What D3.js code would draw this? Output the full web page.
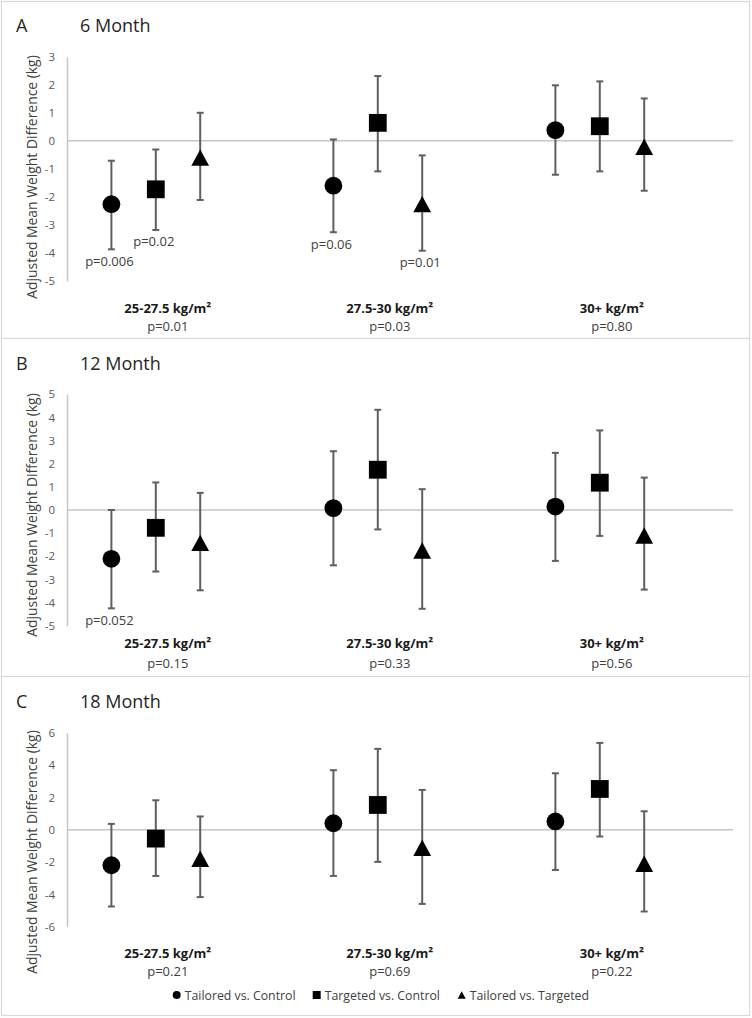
<!DOCTYPE html>
<html>
<head>
<meta charset="utf-8">
<script src="https://cdn.jsdelivr.net/npm/d3@7"></script>
<style>
  html, body { margin: 0; padding: 0; background: #ffffff; }
  svg { display: block; }
  text { font-family: "Open Sans", Lato, sans-serif; }
</style>
</head>
<body>
<svg id="chart" width="752" height="1018"></svg>
<script>
// ---------- data ----------
const groups = ["25-27.5 kg/m²", "27.5-30 kg/m²", "30+ kg/m²"];
const seriesNames = ["Tailored vs. Control", "Targeted vs. Control", "Tailored vs. Targeted"];
const seriesShapes = ["circle", "square", "triangle"];

// 6 month
const m6_tc = [-2.26, -1.60, 0.38];
const m6_tc_lo = [-3.87, -3.26, -1.21];
const m6_tc_hi = [-0.71, 0.05, 1.98];
const m6_gc = [-1.73, 0.64, 0.52];
const m6_gc_lo = [-3.18, -1.09, -1.09];
const m6_gc_hi = [-0.31, 2.31, 2.12];
const m6_tg = [-0.60, -2.26, -0.21];
const m6_tg_lo = [-2.11, -3.92, -1.78];
const m6_tg_hi = [1.00, -0.52, 1.51];
const m6_groupP = ["p=0.01", "p=0.03", "p=0.80"];
const m6_pointP = [
  { series: 0, group: 0, text: "p=0.006" },
  { series: 1, group: 0, text: "p=0.02" },
  { series: 0, group: 1, text: "p=0.06" },
  { series: 2, group: 1, text: "p=0.01" }
];
const m6_ticks = [-5, -4, -3, -2, -1, 0, 1, 2, 3];

// 12 month
const m12_tc = [-2.11, 0.08, 0.15];
const m12_tc_lo = [-4.25, -2.39, -2.20];
const m12_tc_hi = [0.00, 2.54, 2.47];
const m12_gc = [-0.77, 1.74, 1.18];
const m12_gc_lo = [-2.66, -0.84, -1.12];
const m12_gc_hi = [1.19, 4.33, 3.44];
const m12_tg = [-1.42, -1.75, -1.10];
const m12_tg_lo = [-3.47, -4.27, -3.44];
const m12_tg_hi = [0.74, 0.90, 1.40];
const m12_groupP = ["p=0.15", "p=0.33", "p=0.56"];
const m12_pointP = [
  { series: 0, group: 0, text: "p=0.052" }
];
const m12_ticks = [-5, -4, -3, -2, -1, 0, 1, 2, 3, 4, 5];

// 18 month
const m18_tc = [-2.20, 0.40, 0.51];
const m18_tc_lo = [-4.75, -2.86, -2.49];
const m18_tc_hi = [0.36, 3.68, 3.49];
const m18_gc = [-0.55, 1.53, 2.52];
const m18_gc_lo = [-2.86, -1.99, -0.42];
const m18_gc_hi = [1.82, 5.00, 5.37];
const m18_tg = [-1.80, -1.12, -2.11];
const m18_tg_lo = [-4.17, -4.59, -5.06];
const m18_tg_hi = [0.82, 2.46, 1.14];
const m18_groupP = ["p=0.21", "p=0.69", "p=0.22"];
const m18_pointP = [];
const m18_ticks = [-6, -4, -2, 0, 2, 4, 6];

const panelsData = [
  { letter: "A", title: "6 Month", ticks: m6_ticks, groupP: m6_groupP, pointP: m6_pointP,
    mean: [m6_tc, m6_gc, m6_tg], lo: [m6_tc_lo, m6_gc_lo, m6_tg_lo], hi: [m6_tc_hi, m6_gc_hi, m6_tg_hi] },
  { letter: "B", title: "12 Month", ticks: m12_ticks, groupP: m12_groupP, pointP: m12_pointP,
    mean: [m12_tc, m12_gc, m12_tg], lo: [m12_tc_lo, m12_gc_lo, m12_tg_lo], hi: [m12_tc_hi, m12_gc_hi, m12_tg_hi] },
  { letter: "C", title: "18 Month", ticks: m18_ticks, groupP: m18_groupP, pointP: m18_pointP,
    mean: [m18_tc, m18_gc, m18_tg], lo: [m18_tc_lo, m18_gc_lo, m18_tg_lo], hi: [m18_tc_hi, m18_gc_hi, m18_tg_hi] }
];

// ---------- layout ----------
const layout = [
  { boxTop: 1, boxBottom: 338, titleY: 32, plotTop: 56.7, plotBottom: 281, axisTitleY: 177, catY: 313, pY: 331 },
  { boxTop: 338, boxBottom: 676, titleY: 370, plotTop: 394.3, plotBottom: 625.7, axisTitleY: 515, catY: 648, pY: 668 },
  { boxTop: 676, boxBottom: 1015, titleY: 708, plotTop: 732.7, plotBottom: 926.7, axisTitleY: 852, catY: 958, pY: 976 }
];
const boxLeft = 1, boxRight = 749;
const plotLeft = 67, plotRight = 733;
const offsets = [-0.2, 0, 0.2];

const svg = d3.select("#chart");
const x = d3.scaleLinear().domain([0.6, 3.6]).range([plotLeft, plotRight]);

const barColor = "#5f5f5f";
const gridColor = "#c6c6c6";

function markerPath(shape, size) {
  if (shape === "circle") return d3.symbol().type(d3.symbolCircle).size(Math.PI * (size / 2) * (size / 2))();
  if (shape === "square") return d3.symbol().type(d3.symbolSquare).size(size * size)();
  const w = size, h = size * 0.92;
  return `M0,${-h / 2}L${w / 2},${h / 2}L${-w / 2},${h / 2}Z`;
}

panelsData.forEach((p, pi) => {
  const L = layout[pi];
  const g = svg.append("g");

  g.append("rect")
    .attr("x", boxLeft + 0.5).attr("y", L.boxTop + 0.5)
    .attr("width", boxRight - boxLeft).attr("height", L.boxBottom - L.boxTop)
    .attr("fill", "#ffffff").attr("stroke", "#d9d9d9").attr("stroke-width", 1.2);

  const ext = d3.extent(p.ticks);
  const y = d3.scaleLinear().domain(ext).range([L.plotBottom, L.plotTop]);

  g.append("text").attr("x", 16).attr("y", L.titleY)
    .attr("font-size", 18).attr("fill", "#262626").text(p.letter);
  g.append("text").attr("x", 80).attr("y", L.titleY)
    .attr("font-size", 18).attr("fill", "#262626").text(p.title);

  const yAxis = d3.axisLeft(y).tickValues(p.ticks).tickSize(0).tickPadding(12)
    .tickFormat(d => String(d));
  const ya = g.append("g").attr("transform", `translate(${plotLeft},0)`).call(yAxis);
  ya.select(".domain").attr("stroke", gridColor).attr("stroke-width", 1.5);
  ya.selectAll("text").attr("font-size", 11.5).attr("fill", "#595959")
    .attr("font-family", "'Open Sans', Lato, sans-serif");

  g.append("line")
    .attr("x1", plotLeft).attr("x2", plotRight)
    .attr("y1", y(0)).attr("y2", y(0))
    .attr("stroke", gridColor).attr("stroke-width", 1.5);

  g.append("text")
    .attr("transform", `translate(37,${L.axisTitleY}) rotate(-90)`)
    .attr("text-anchor", "middle").attr("font-size", 13.9).attr("fill", "#404040")
    .attr("font-family", "Lato, 'Open Sans', sans-serif")
    .text("Adjusted Mean Weight Difference (kg)");

  p.mean.forEach((vals, si) => {
    vals.forEach((v, gi) => {
      const cx = x(gi + 1 + offsets[si]);
      const yl = y(p.lo[si][gi]), yh = y(p.hi[si][gi]);
      g.append("line").attr("x1", cx).attr("x2", cx).attr("y1", yl).attr("y2", yh)
        .attr("stroke", barColor).attr("stroke-width", 2);
      [yl, yh].forEach(yy => {
        g.append("line").attr("x1", cx - 3.5).attr("x2", cx + 3.5).attr("y1", yy).attr("y2", yy)
          .attr("stroke", barColor).attr("stroke-width", 2);
      });
    });
  });
  p.mean.forEach((vals, si) => {
    vals.forEach((v, gi) => {
      const cx = x(gi + 1 + offsets[si]);
      g.append("path")
        .attr("d", markerPath(seriesShapes[si], 17.8))
        .attr("transform", `translate(${cx},${y(v)})`)
        .attr("fill", "#000");
    });
  });

  p.pointP.forEach(a => {
    const cx = x(a.group + 1 + offsets[a.series]) - 2;
    g.append("text").attr("x", cx).attr("y", y(p.lo[a.series][a.group]) + 16.5)
      .attr("text-anchor", "middle").attr("font-size", 13).attr("fill", "#404040")
      .text(a.text);
  });

  groups.forEach((name, gi) => {
    const cx = x(gi + 1) + 12;
    g.append("text").attr("x", cx).attr("y", L.catY)
      .attr("text-anchor", "middle").attr("font-size", 13).attr("font-weight", "bold")
      .attr("fill", "#1a1a1a").text(name);
    g.append("text").attr("x", cx).attr("y", L.pY)
      .attr("text-anchor", "middle").attr("font-size", 13).attr("fill", "#404040")
      .text(p.groupP[gi]);
  });
});

const legendX = [176.7, 316.7, 461.7];
const legendY = 995;
const lg = svg.append("g");
seriesNames.forEach((name, si) => {
  lg.append("path").attr("d", markerPath(seriesShapes[si], 8))
    .attr("transform", `translate(${legendX[si]},${legendY})`).attr("fill", "#000");
  lg.append("text").attr("x", legendX[si] + 8).attr("y", legendY + 4.5)
    .attr("font-size", 12.3).attr("fill", "#404040")
    .attr("font-family", "Lato, 'Open Sans', sans-serif").text(name);
});
</script>
</body>
</html>
